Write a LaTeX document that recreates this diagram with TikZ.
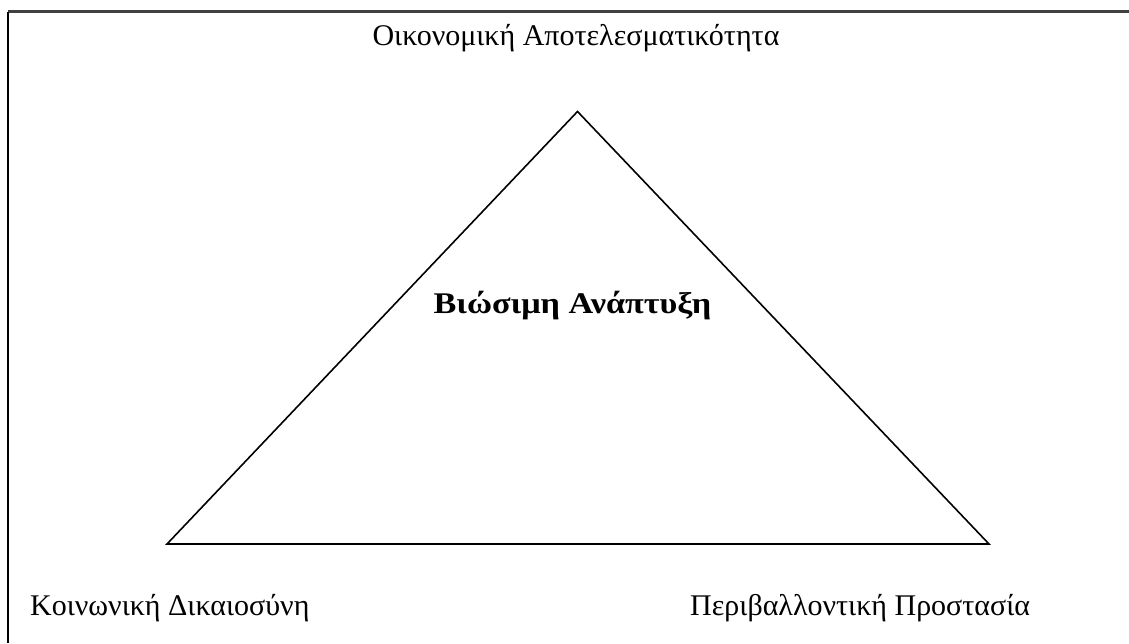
\documentclass[tikz,border=0pt]{standalone}
\usepackage{fontspec}
\setmainfont{Liberation Serif}
\begin{document}
\begin{tikzpicture}[x=1pt,y=-1pt,
  lbl/.style={font=\fontsize{30}{33}\selectfont, inner sep=0pt},
  ttl/.style={font=\fontsize{30}{33}\selectfont\bfseries, inner sep=0pt},
  edge/.style={line width=1.6pt, line join=miter}]
\useasboundingbox (0,0) rectangle (1129,643);
\fill[white] (0,0) rectangle (1129,643);
% frame (left and top only)
\coordinate (fTL) at (8,11.5);
\coordinate (fTR) at (1129,11.5);
\coordinate (fBL) at (8,643);
\draw[line width=2.6pt, black!75] (fTL) -- (fTR);
\draw[line width=2.6pt, black] (fBL) -- (fTL);
% triangle
\coordinate (apex) at (577.5,111.5);
\coordinate (bl) at (167,544);
\coordinate (br) at (989,544);
\draw[edge] (apex) -- (br) -- (bl) -- cycle;
% labels
\node[lbl, anchor=base] (eco) at (576,45) {Οικονομική Αποτελεσματικότητα};
\node[lbl, anchor=base west] (soc) at (30,615) {Κοινωνική Δικαιοσύνη};
\node[lbl, anchor=base west] (env) at (690,615) {Περιβαλλοντική Προστασία};
\node[ttl, anchor=base] (sd) at (572.5,313) {\scalebox{1.14}[1]{Βιώσιμη Ανάπτυξη}};
\end{tikzpicture}
\end{document}
